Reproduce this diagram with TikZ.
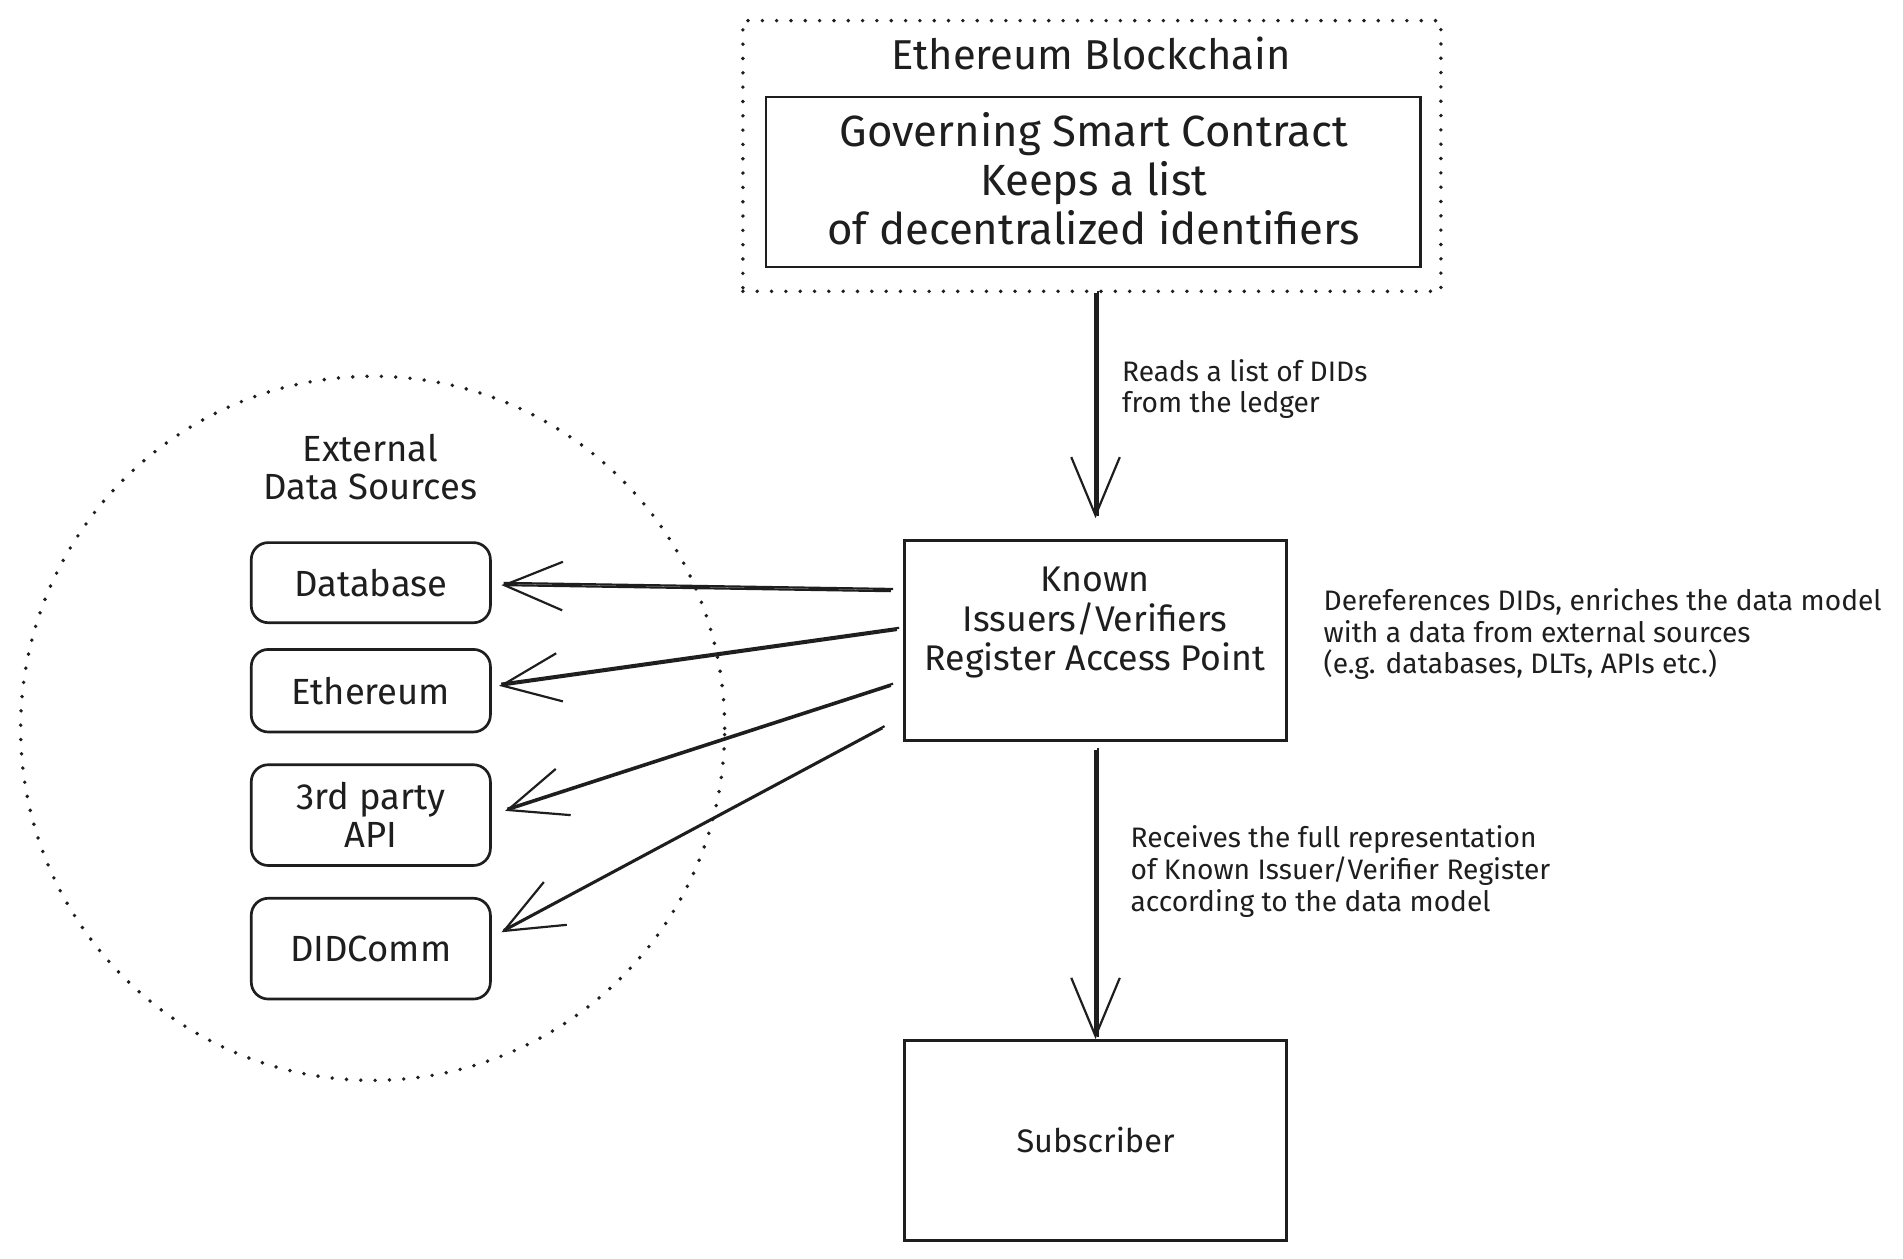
\documentclass[tikz,border=0pt]{standalone}
\usepackage{fontspec}
\setmainfont{Fira Sans}
\usetikzlibrary{arrows.meta,calc,shapes.geometric}
\definecolor{ink}{HTML}{1E1E1E}
\begin{document}
\begin{tikzpicture}[x=0.5pt,y=-0.5pt,
  every node/.style={text=ink},
  box/.style={draw=ink, line width=1.1pt, rectangle, inner sep=0pt},
  rbox/.style={draw=ink, line width=1.1pt, rectangle, rounded corners=7pt, inner sep=0pt, minimum width=98.5pt},
  dots/.style={draw=ink, line width=1.6pt, line cap=round, dash pattern=on 0pt off 5.9pt},
  arr/.style={draw=ink, line width=0.9pt, -{Straight Barb[length=24pt,width=20pt,line width=0.9pt]}, postaction={draw=ink, line width=0.9pt, -, transform canvas={shift={(0.9pt,0.9pt)}}}},
  title/.style={font=\fontsize{17.2}{20}\selectfont, align=center},
  big/.style={font=\fontsize{18}{20.2}\selectfont, align=center},
  mid/.style={font=\fontsize{14.7}{16.25}\selectfont, align=center},
  lbl/.style={font=\fontsize{15}{15.5}\selectfont, align=center},
  small/.style={font=\fontsize{11.6}{13}\selectfont, align=left, inner sep=0pt},
]
\useasboundingbox[fill=white] (0,0) rectangle (1567.7,1036.4);
% Ethereum blockchain group
\node[dots, rectangle, minimum width=287.5pt, minimum height=111.5pt] (chain) at (899.5,128.5) {};
\node[title] (chaint) at (899,44) {Ethereum Blockchain};
\node[box, minimum width=269.5pt, minimum height=70pt] (gsc) at (900.5,150) {};
\node[big] (gsct) at (901,147) {Governing Smart Contract\\Keeps a list\\of decentralized identifiers};
% access point
\node[box, minimum width=157.5pt, minimum height=82.5pt] (known) at (902.5,527.5) {};
\node[mid] (knownt) at (902,513) {Known\\Issuers/Verifiers\\Register Access Point};
% subscriber
\node[box, minimum width=157.5pt, minimum height=82.5pt, font=\fontsize{13.4}{16}\selectfont] (sub) at (902.5,939.5) {Subscriber};
% external sources
\node[dots, circle, minimum size=290pt, inner sep=0pt] (ext) at (307,600) {};
\node[lbl] (extt) at (305,385) {External\\Data Sources};
\node[rbox, minimum height=33pt, lbl] (db) at (305.5,480) {Database};
\node[rbox, minimum height=34pt, lbl] (eth) at (305.5,569) {Ethereum};
\node[rbox, minimum height=41.5pt, lbl] (api) at (305.5,671.5) {3rd party\\API};
\node[rbox, minimum height=41.5pt, lbl] (dc) at (305.5,781.5) {DIDComm};
% connectors
\draw[arr, shorten >=8.5pt] (chain.south -| known.north) -- (known.north);
\draw[arr, shorten <=3.5pt] (known.south) -- (sub.north);
\draw[arr] ($(known.west)+(-10,-40.5)$) -- ($(db.east)+(8,2)$);
\draw[arr] ($(known.west)+(-5,-8.5)$) -- ($(eth.east)+(6,-4)$);
\draw[arr] ($(known.west)+(-10,37.5)$) -- ($(api.east)+(11,-3.5)$);
\draw[arr] ($(known.west)+(-17,72.5)$) -- ($(dc.east)+(8,-13.5)$);
% labels
\node[small, anchor=west] (l1) at (924,320.5) {Reads a list of DIDs\\from the ledger};
\node[small, anchor=west] (l2) at (1090,522.5) {Dereferences DIDs, enriches the data model\\with a data from external sources\\(e.g. databases, DLTs, APIs etc.)};
\node[small, anchor=west] (l3) at (931,718) {Receives the full representation\\of Known Issuer/Verifier Register\\according to the data model};
\end{tikzpicture}
\end{document}
